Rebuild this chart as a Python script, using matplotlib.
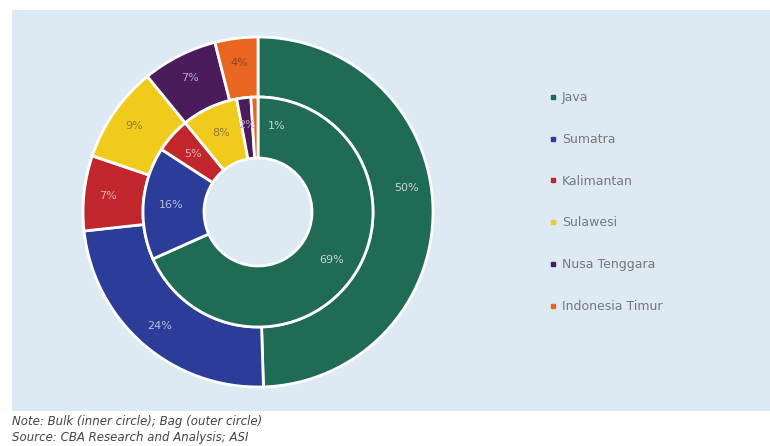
import numpy as np
import matplotlib
matplotlib.use('Agg')
import matplotlib.pyplot as plt
from matplotlib.lines import Line2D

regions = ['Java', 'Sumatra', 'Kalimantan', 'Sulawesi', 'Nusa Tenggara', 'Indonesia Timur']
bag = [50, 24, 7, 9, 7, 4]     # outer circle
bulk = [69, 16, 5, 8, 2, 1]    # inner circle

colors = ['#1f6b55', '#2b3d98', '#c1262c', '#f0cb1c', '#4a1c5c', '#e8661f']
txt_colors = ['#c9d3cf', '#b9bed8', '#e0b0b0', '#8d7a3a', '#b8a8c0', '#8a4a2a']

fig = plt.figure(figsize=(7.7, 4.46), dpi=100)

# light blue panel behind the chart
bg = fig.add_axes([12/770, 1 - 411/446, 758/770, 401/446])
bg.set_facecolor('#dde9f3')
bg.set_xticks([])
bg.set_yticks([])
for s in bg.spines.values():
    s.set_visible(False)

R = 175
cx, cy = 258, 212
ax = fig.add_axes([(cx - R)/770, 1 - (cy + R)/446, 2*R/770, 2*R/446])
ax.set_facecolor('none')

r_mid = 115 / R
r_hole = 54 / R
wp = dict(edgecolor='white', linewidth=2)

outer, _ = ax.pie(bag, radius=1.0, colors=colors, startangle=90, counterclock=False,
                  wedgeprops=dict(width=1.0 - r_mid, **wp))
inner, _ = ax.pie(bulk, radius=r_mid, colors=colors, startangle=90, counterclock=False,
                  wedgeprops=dict(width=r_mid - r_hole, **wp))

def put_labels(wedges, vals, r, overrides={}, colours=None):
    colours = colours or txt_colors
    for i, (w, v) in enumerate(zip(wedges, vals)):
        ang = overrides.get(i, (w.theta1 + w.theta2) / 2)
        x, y = r * np.cos(np.radians(ang)), r * np.sin(np.radians(ang))
        ax.text(x, y, f'{v}%', ha='center', va='center', fontsize=8,
                color=colours[i])

put_labels(outer, bag, 0.86, overrides={0: 9})
# the 1% slice is too thin, so its label sits on the green wedge
inner_txt = txt_colors[:5] + ['#c9d3cf']
put_labels(inner, bulk, 0.5, overrides={5: 78}, colours=inner_txt)

ax.set_xlim(-1, 1)
ax.set_ylim(-1, 1)
ax.set_aspect('equal')
ax.axis('off')

handles = [Line2D([], [], marker='s', linestyle='none', markersize=3.5,
                  markerfacecolor=c, markeredgecolor=c) for c in colors]
leg = fig.legend(handles, regions, loc='upper left', bbox_to_anchor=(537/770, 1 - 80/446),
                 frameon=False, fontsize=9, labelspacing=2.3, handletextpad=0.3,
                 handlelength=0.8)
for t in leg.get_texts():
    t.set_color('#787878')

fig.text(12/770, 1 - 422/446, 'Note: Bulk (inner circle); Bag (outer circle)',
         fontsize=8.5, style='italic', color='#444444', va='center')
fig.text(12/770, 1 - 438/446, 'Source: CBA Research and Analysis; ASI',
         fontsize=8.5, style='italic', color='#444444', va='center')

fig.savefig('out.png', dpi=100)
